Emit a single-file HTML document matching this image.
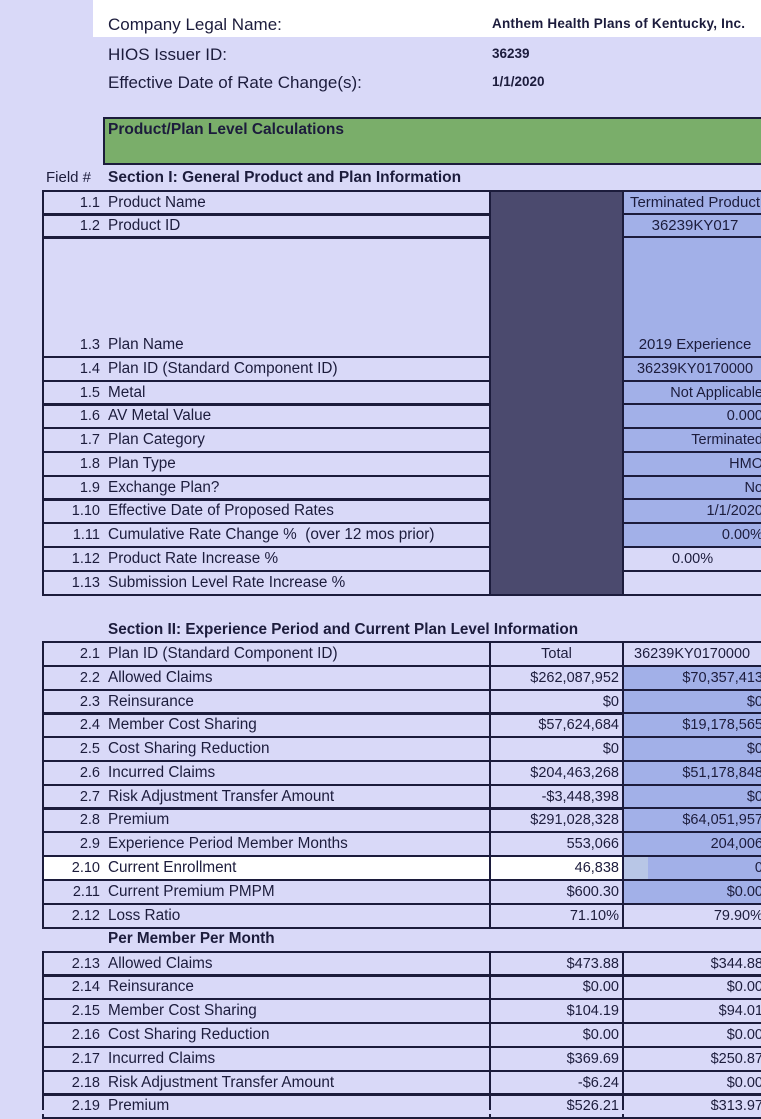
<!DOCTYPE html>
<html><head><meta charset="utf-8"><style>
html,body{margin:0;padding:0;}
body{width:761px;height:1114px;overflow:hidden;position:relative;background:#d9d9f8;font-family:"Liberation Sans",sans-serif;color:#1c1c3c;font-size:14.5px;}
.a{position:absolute;white-space:nowrap;}
.c{position:absolute;box-sizing:border-box;border:2px solid #1c1c3c;height:26px;line-height:22px;white-space:nowrap;overflow:visible;}
.l{left:42px;width:449px;}
.t{left:489px;width:135px;text-align:right;padding-right:3px;}
.p{left:622px;width:146px;text-align:right;padding-right:3px;}
.pc{text-align:center;padding-right:0;}
.n{position:absolute;right:389px;}
.nm{position:absolute;left:64px;font-size:15.3px;}
.b{background:#a2b0e8;}
.w{background:#fff;}
.bold{font-weight:bold;}
</style></head><body>
<div class="a" style="left:93px;top:0;width:668px;height:37px;background:#fff;"></div>
<div class="a" style="left:108px;top:15px;font-size:17px;">Company Legal Name:</div>
<div class="a bold" style="left:492px;top:16px;font-size:13.5px;letter-spacing:0.2px;">Anthem Health Plans of Kentucky, Inc.</div>
<div class="a" style="left:108px;top:45px;font-size:17px;">HIOS Issuer ID:</div>
<div class="a bold" style="left:492px;top:46px;font-size:13.5px;">36239</div>
<div class="a" style="left:108px;top:73px;font-size:17px;">Effective Date of Rate Change(s):</div>
<div class="a bold" style="left:492px;top:74px;font-size:13.5px;">1/1/2020</div>
<div class="a" style="left:103px;top:117px;width:670px;height:48px;box-sizing:border-box;background:#7aae6a;border:2px solid #1c1c3c;"></div>
<div class="a bold" style="left:108px;top:121px;font-size:15.5px;">Product/Plan Level Calculations</div>
<div class="a" style="left:46px;top:169px;font-size:15px;">Field #</div>
<div class="a bold" style="left:108px;top:169px;font-size:15.5px;">Section I: General Product and Plan Information</div>

<!-- Section I -->
<div class="c l" style="top:190px;"><span class="n">1.1</span><span class="nm">Product Name</span></div>
<div class="c l" style="top:213px;"><span class="n">1.2</span><span class="nm">Product ID</span></div>
<div class="c l" style="top:236px;height:122px;line-height:214px;"><span class="n">1.3</span><span class="nm">Plan Name</span></div>
<div class="c l" style="top:356px;"><span class="n">1.4</span><span class="nm">Plan ID (Standard Component ID)</span></div>
<div class="c l" style="top:380px;"><span class="n">1.5</span><span class="nm">Metal</span></div>
<div class="c l" style="top:403px;"><span class="n">1.6</span><span class="nm">AV Metal Value</span></div>
<div class="c l" style="top:427px;"><span class="n">1.7</span><span class="nm">Plan Category</span></div>
<div class="c l" style="top:451px;"><span class="n">1.8</span><span class="nm">Plan Type</span></div>
<div class="c l" style="top:475px;"><span class="n">1.9</span><span class="nm">Exchange Plan?</span></div>
<div class="c l" style="top:498px;"><span class="n">1.10</span><span class="nm">Effective Date of Proposed Rates</span></div>
<div class="c l" style="top:522px;"><span class="n">1.11</span><span class="nm">Cumulative Rate Change % &nbsp;(over 12 mos prior)</span></div>
<div class="c l" style="top:546px;"><span class="n">1.12</span><span class="nm">Product Rate Increase %</span></div>
<div class="c l" style="top:570px;"><span class="n">1.13</span><span class="nm">Submission Level Rate Increase %</span></div>
<div class="c" style="left:489px;top:190px;width:135px;height:406px;background:#4b4a6e;"></div>
<div class="c p pc b" style="top:190px;font-size:15px;">Terminated Product</div>
<div class="c p pc b" style="top:213px;font-size:15px;">36239KY017</div>
<div class="c p pc b" style="top:236px;height:122px;line-height:214px;font-size:15px;">2019 Experience</div>
<div class="c p pc b" style="top:356px;">36239KY0170000</div>
<div class="c p b" style="top:380px;">Not Applicable</div>
<div class="c p b" style="top:403px;">0.000</div>
<div class="c p b" style="top:427px;">Terminated</div>
<div class="c p b" style="top:451px;">HMO</div>
<div class="c p b" style="top:475px;">No</div>
<div class="c p b" style="top:498px;">1/1/2020</div>
<div class="c p b" style="top:522px;">0.00%</div>
<div class="c p" style="top:546px;text-align:left;padding-left:48px;">0.00%</div>
<div class="c p" style="top:570px;"></div>

<div class="a bold" style="left:108px;top:621px;font-size:15.3px;">Section II: Experience Period and Current Plan Level Information</div>

<!-- Section II -->
<div class="c l" style="top:641px;"><span class="n">2.1</span><span class="nm">Plan ID (Standard Component ID)</span></div>
<div class="c t" style="top:641px;text-align:center;padding:0;">Total</div>
<div class="c p" style="top:641px;text-align:left;padding-left:10px;">36239KY0170000</div>

<div class="c l" style="top:665px;"><span class="n">2.2</span><span class="nm">Allowed Claims</span></div>
<div class="c t" style="top:665px;">$262,087,952</div>
<div class="c p b" style="top:665px;">$70,357,413</div>

<div class="c l" style="top:689px;"><span class="n">2.3</span><span class="nm">Reinsurance</span></div>
<div class="c t" style="top:689px;">$0</div>
<div class="c p b" style="top:689px;">$0</div>

<div class="c l" style="top:712px;"><span class="n">2.4</span><span class="nm">Member Cost Sharing</span></div>
<div class="c t" style="top:712px;">$57,624,684</div>
<div class="c p b" style="top:712px;">$19,178,565</div>

<div class="c l" style="top:736px;"><span class="n">2.5</span><span class="nm">Cost Sharing Reduction</span></div>
<div class="c t" style="top:736px;">$0</div>
<div class="c p b" style="top:736px;">$0</div>

<div class="c l" style="top:760px;"><span class="n">2.6</span><span class="nm">Incurred Claims</span></div>
<div class="c t" style="top:760px;">$204,463,268</div>
<div class="c p b" style="top:760px;">$51,178,848</div>

<div class="c l" style="top:784px;"><span class="n">2.7</span><span class="nm">Risk Adjustment Transfer Amount</span></div>
<div class="c t" style="top:784px;">-$3,448,398</div>
<div class="c p b" style="top:784px;">$0</div>

<div class="c l" style="top:807px;"><span class="n">2.8</span><span class="nm">Premium</span></div>
<div class="c t" style="top:807px;">$291,028,328</div>
<div class="c p b" style="top:807px;">$64,051,957</div>

<div class="c l" style="top:831px;"><span class="n">2.9</span><span class="nm">Experience Period Member Months</span></div>
<div class="c t" style="top:831px;">553,066</div>
<div class="c p b" style="top:831px;">204,006</div>

<div class="c l w" style="top:855px;"><span class="n">2.10</span><span class="nm">Current Enrollment</span></div>
<div class="c t w" style="top:855px;">46,838</div>
<div class="c p b" style="top:855px;">0</div>
<div class="a" style="left:624px;top:857px;width:24px;height:22px;background:#b8c6e6;"></div>

<div class="c l" style="top:879px;"><span class="n">2.11</span><span class="nm">Current Premium PMPM</span></div>
<div class="c t" style="top:879px;">$600.30</div>
<div class="c p b" style="top:879px;">$0.00</div>

<div class="c l" style="top:903px;"><span class="n">2.12</span><span class="nm">Loss Ratio</span></div>
<div class="c t" style="top:903px;">71.10%</div>
<div class="c p" style="top:903px;">79.90%</div>

<div class="a bold" style="left:108px;top:930px;font-size:15.3px;">Per Member Per Month</div>

<div class="c l" style="top:951px;"><span class="n">2.13</span><span class="nm">Allowed Claims</span></div>
<div class="c t" style="top:951px;">$473.88</div>
<div class="c p" style="top:951px;">$344.88</div>

<div class="c l" style="top:974px;"><span class="n">2.14</span><span class="nm">Reinsurance</span></div>
<div class="c t" style="top:974px;">$0.00</div>
<div class="c p" style="top:974px;">$0.00</div>

<div class="c l" style="top:998px;"><span class="n">2.15</span><span class="nm">Member Cost Sharing</span></div>
<div class="c t" style="top:998px;">$104.19</div>
<div class="c p" style="top:998px;">$94.01</div>

<div class="c l" style="top:1022px;"><span class="n">2.16</span><span class="nm">Cost Sharing Reduction</span></div>
<div class="c t" style="top:1022px;">$0.00</div>
<div class="c p" style="top:1022px;">$0.00</div>

<div class="c l" style="top:1046px;"><span class="n">2.17</span><span class="nm">Incurred Claims</span></div>
<div class="c t" style="top:1046px;">$369.69</div>
<div class="c p" style="top:1046px;">$250.87</div>

<div class="c l" style="top:1070px;"><span class="n">2.18</span><span class="nm">Risk Adjustment Transfer Amount</span></div>
<div class="c t" style="top:1070px;">-$6.24</div>
<div class="c p" style="top:1070px;">$0.00</div>

<div class="c l" style="top:1093px;"><span class="n">2.19</span><span class="nm">Premium</span></div>
<div class="c t" style="top:1093px;">$526.21</div>
<div class="c p" style="top:1093px;">$313.97</div>

<div class="a" style="left:0;top:1110px;width:761px;height:4px;background:#d9d9f8;"></div>
</body></html>
